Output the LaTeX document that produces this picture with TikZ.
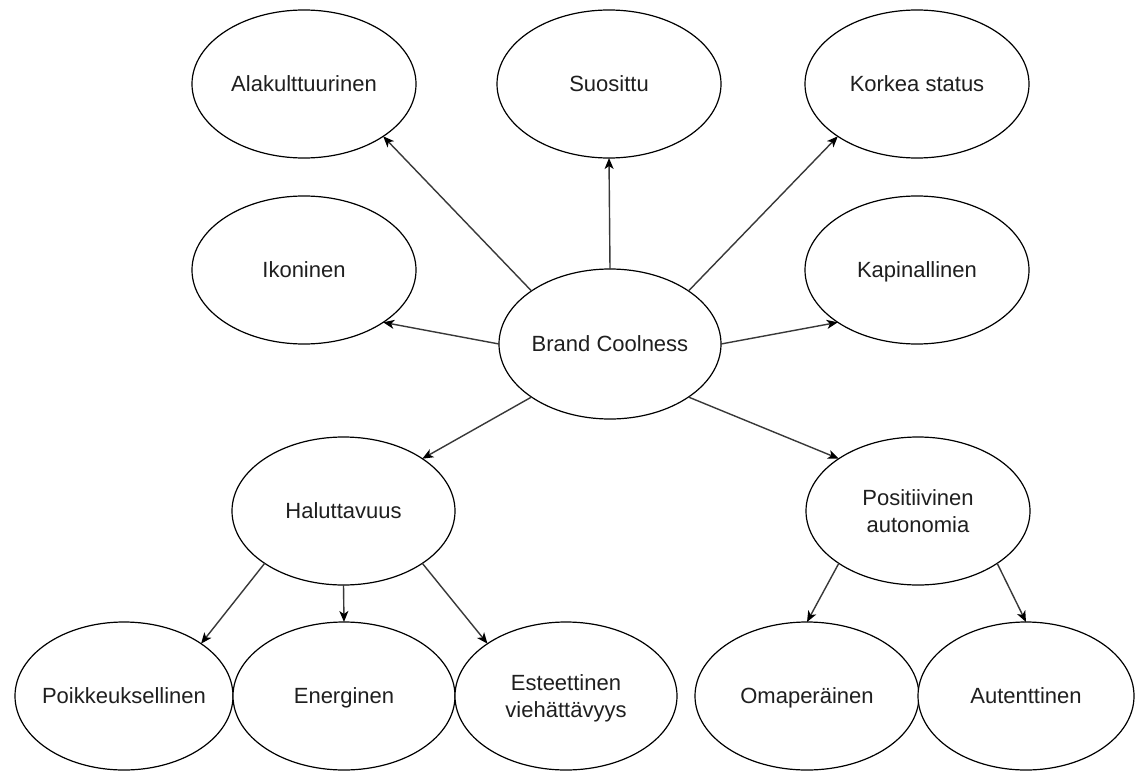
\documentclass[tikz,border=0pt]{standalone}
\usepackage{fontspec}
\setmainfont{Liberation Sans}
\usetikzlibrary{arrows.meta,shapes.geometric}

\begin{document}
\begin{tikzpicture}[x=1pt,y=-1pt,
  ell/.style={ellipse, draw=black, line width=1.2pt, fill=white,
    inner xsep=-40pt, inner ysep=-40pt, outer sep=0pt,
    minimum width=224pt, minimum height=148pt,
    font=\fontsize{22}{26.5}\selectfont, align=center, text depth=0pt, text=black!88},
  link/.style={draw=black!78, line width=1.4pt,
    -{Stealth[length=11pt,width=9pt,inset=3pt,color=black]}}]
\fill[white] (0,0) rectangle (1135,771);
\useasboundingbox (0,0) rectangle (1135,771);

% top row and side ellipses
\node[ell] (alak) at (304,84)  {Alakulttuurinen};
\node[ell] (suo)  at (609,84)  {Suosittu};
\node[ell] (kork) at (917,84)  {Korkea status};
\node[ell] (ikon) at (304,270) {Ikoninen};
\node[ell] (kapi) at (917,270) {Kapinallinen};

% central concept
\node[ell, minimum width=222pt, minimum height=150pt] (bc) at (610,344) {Brand Coolness};

% second level
\node[ell, minimum width=223pt] (halu) at (343.5,511) {Haluttavuus};
\node[ell] (posi) at (918,511) {Positiivinen\\autonomia};

% bottom row
\node[ell, minimum width=218pt] (poik) at (124,696) {Poikkeuksellinen};
\node[ell, minimum width=222pt] (ener) at (344,696) {Energinen};
\node[ell, minimum width=222pt] (este) at (566,696) {Esteettinen\\viehättävyys};
\node[ell] (omap) at (807,696) {Omaperäinen};
\node[ell, minimum width=216pt] (aute) at (1026,696) {Autenttinen};

% connectors from the central concept
\draw[link] (bc.north west) -- (alak.south east);
\draw[link] (bc.north) -- (suo.south);
\draw[link] (bc.north east) -- (kork.south west);
\draw[link] (bc.west) -- (ikon.south east);
\draw[link] (bc.east) -- (kapi.south west);
\draw[link] (bc.south west) -- (halu.north east);
\draw[link] (bc.south east) -- (posi.north west);

% connectors to the bottom row
\draw[link] (halu.south west) -- (poik.north east);
\draw[link] (halu.south) -- (ener.north);
\draw[link] (halu.south east) -- (este.north west);
\draw[link] (posi.south west) -- (omap.north);
\draw[link] (posi.south east) -- (aute.north);
\end{tikzpicture}
\end{document}
